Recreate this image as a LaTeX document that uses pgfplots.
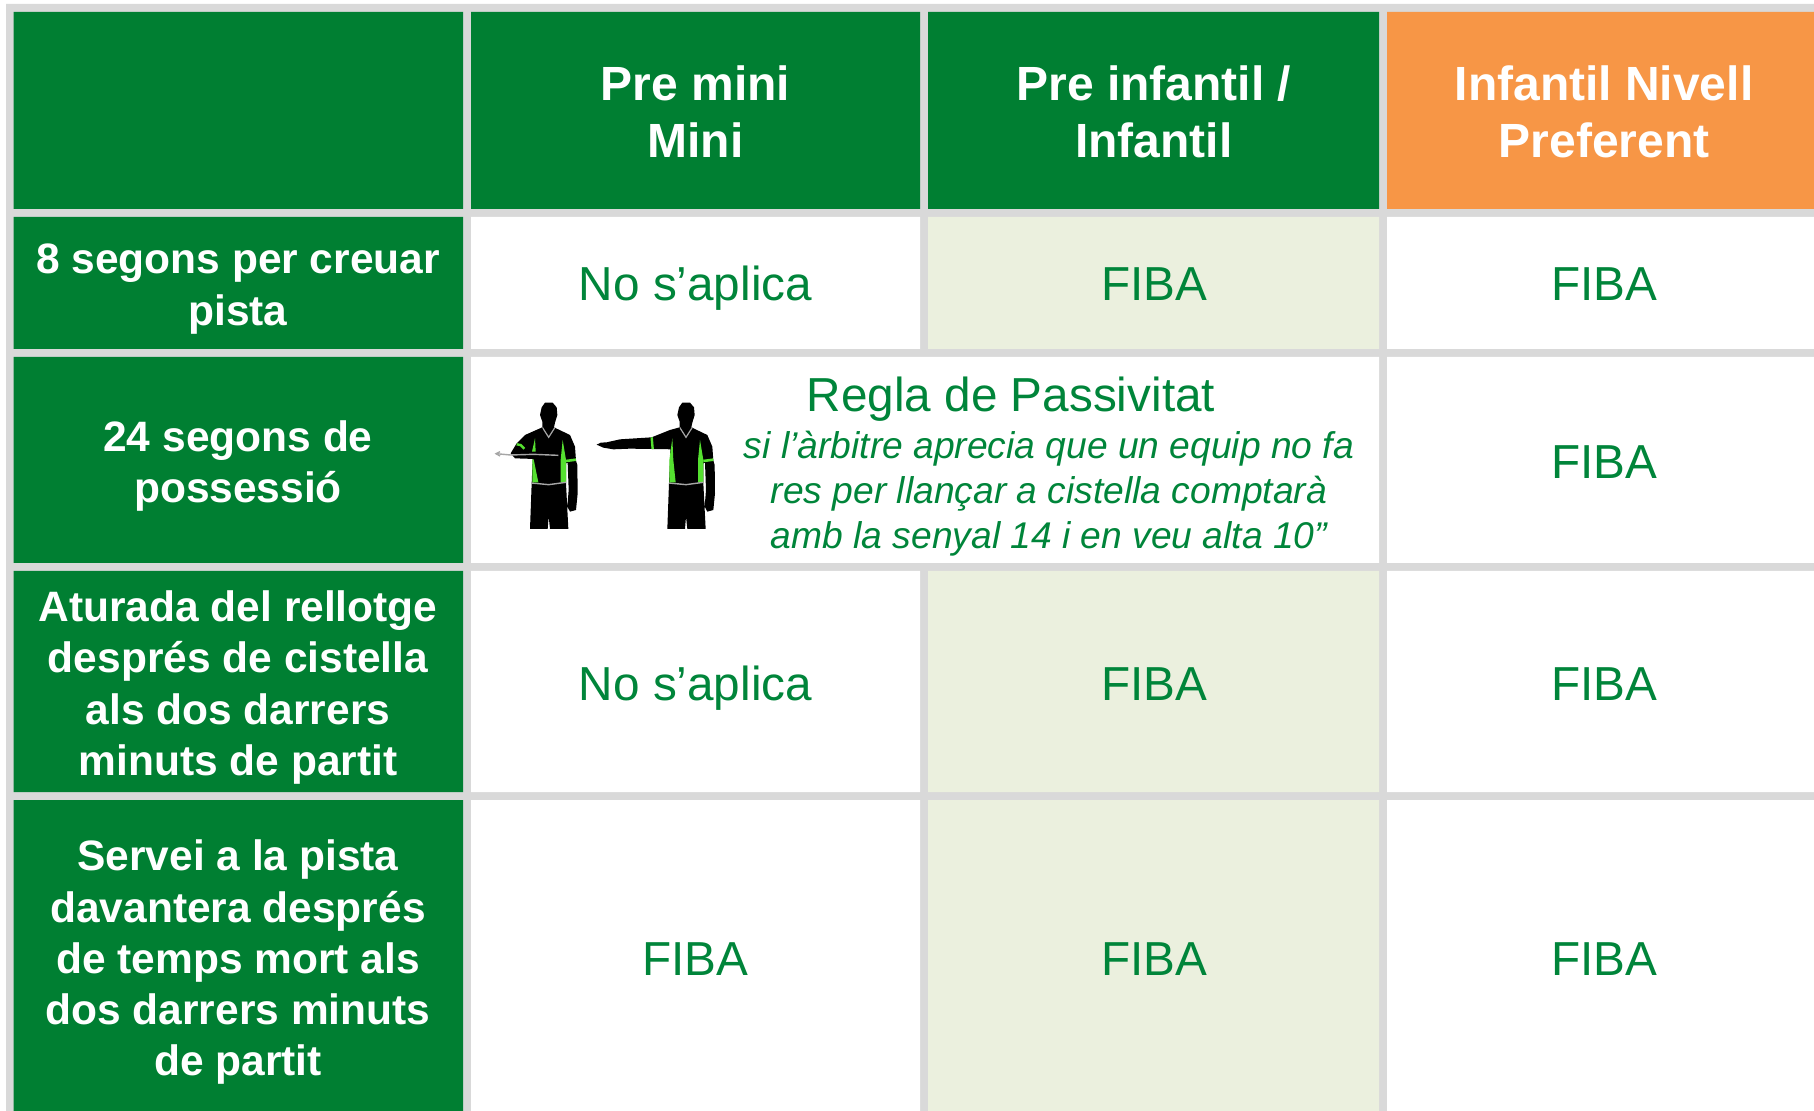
\documentclass[border=0pt]{standalone}
\usepackage{pgfplots}
\pgfplotsset{compat=1.18}
\usepackage{fontspec}
\setmainfont{Liberation Sans}
\definecolor{dg}{HTML}{007F32}
\definecolor{tg}{HTML}{00853A}
\definecolor{org}{HTML}{F79646}
\definecolor{pale}{HTML}{EBF0DE}
\definecolor{gr}{HTML}{D9D9D9}
\definecolor{lime}{HTML}{55E030}
\newcommand\cell[5]{\addplot[fill=#1,draw=none,forget plot] coordinates {(#2,#3)(#4,#3)(#4,#5)(#2,#5)(#2,#3)};}
% zoom-crop points: x/3 + offset, y/3 + 350
\newcommand\poly[3]{\addplot[fill=#1,draw=none,forget plot] table[x expr=\thisrowno{0}/3+#2,y expr=\thisrowno{1}/3+350,row sep=\\]{#3};}
\newcommand\lin[4]{\addplot[draw=#1,line width=#2,forget plot] table[x expr=\thisrowno{0}/3+#3,y expr=\thisrowno{1}/3+350,row sep=\\]{#4};}
\newcommand\HT[3]{\node[anchor=base,text=white,font=\fontsize{24pt}{28pt}\selectfont\bfseries,inner sep=0pt] at (axis cs:#1,#2) {#3};}
\newcommand\RT[3]{\node[anchor=base,text=white,font=\fontsize{21.25pt}{26pt}\selectfont\bfseries,inner sep=0pt] at (axis cs:#1,#2) {#3};}
\newcommand\GT[3]{\node[anchor=base,text=tg,font=\fontsize{23.85pt}{28pt}\selectfont,inner sep=0pt] at (axis cs:#1,#2) {#3};}
\newcommand\IT[3]{\node[anchor=base,text=tg,font=\fontsize{18.6pt}{23pt}\selectfont\itshape,inner sep=0pt] at (axis cs:#1,#2) {#3};}
\newcommand\common[1]{%
 \poly{black}{#1}{215 172\\225 158\\248 158\\260 172\\262 195\\255 218\\252 232\\300 255\\315 290\\318 332\\322 345\\323 430\\318 480\\300 485\\292 470\\296 420\\293 338\\288 340\\288 400\\295 537\\240 537\\236 500\\233 537\\180 537\\185 400\\188 330\\190 262\\217 232\\217 215\\210 195\\}
 \lin{lime}{1.3pt}{#1}{288 333\\318 329\\}
 \poly{lime}{#1}{278 270\\272 330\\272 397\\288 397\\288 330\\}
 \lin{gray!70}{0.6pt}{#1}{217 232\\236 262\\255 232\\}
 \lin{gray!70}{0.7pt}{#1}{185 399\\236 404\\288 397\\}
}
\begin{document}
\begin{tikzpicture}
\begin{axis}[hide axis,scale only axis,width=907pt,height=555.5pt,xmin=0,xmax=1814,ymin=0,ymax=1111,y dir=reverse,clip=true]
\cell{white}{0}{0}{1814}{1111}
\cell{gr}{6}{4}{1814}{1111}
% header
\cell{dg}{13.5}{12}{463}{209}
\cell{dg}{471}{12}{920}{209}
\cell{dg}{928}{12}{1379}{209}
\cell{org}{1387}{12}{1814}{209}
% row 1
\cell{dg}{13.5}{217}{463}{349}
\cell{white}{471}{217}{920}{349}
\cell{pale}{928}{217}{1379}{349}
\cell{white}{1387}{217}{1814}{349}
% row 2
\cell{dg}{13.5}{357}{463}{563}
\cell{white}{471}{357}{1379}{563}
\cell{white}{1387}{357}{1814}{563}
% row 3
\cell{dg}{13.5}{571}{463}{792}
\cell{white}{471}{571}{920}{792}
\cell{pale}{928}{571}{1379}{792}
\cell{white}{1387}{571}{1814}{792}
% row 4
\cell{dg}{13.5}{800}{463}{1111}
\cell{white}{471}{800}{920}{1111}
\cell{pale}{928}{800}{1379}{1111}
\cell{white}{1387}{800}{1814}{1111}
% referee figures
\common{470}
\common{607.33}
\poly{black}{470}{122 310\\140 280\\165 255\\217 232\\220 270\\190 305\\235 303\\265 310\\265 320\\225 328\\135 325\\}
\lin{lime}{1.2pt}{470}{140 283\\152 285\\163 296\\}
\poly{lime}{470}{195 265\\186 305\\197 305\\}
\poly{lime}{470}{187 328\\187 397\\205 397\\191 328\\}
\lin{gray!70}{0.7pt}{470}{78 311\\122 315\\190 313\\265 316\\}
\lin{gray!70}{0.7pt}{470}{90 305\\78 311\\90 318\\}
\poly{black}{470}{380 284\\392 278\\410 277\\450 268\\545 262\\600 240\\629 232\\632 300\\610 298\\545 297\\480 296\\430 298\\400 293\\}
\lin{lime}{1.2pt}{470}{545 262\\548 297\\}
\poly{lime}{607.33}{195 265\\186 330\\186 397\\205 397\\198 330\\}
% text
\HT{695.5}{101}{Pre mini}
\HT{695.5}{158}{Mini}
\HT{1153.7}{101}{Pre infantil /}
\HT{1153.7}{158}{Infantil}
\HT{1604}{101}{Infantil Nivell}
\HT{1604}{158}{Preferent}
\RT{238}{274}{8 segons per creuar}
\RT{238}{325.5}{pista}
\RT{238}{451.5}{24 segons de}
\RT{238}{502.5}{possessió}
\RT{238}{622}{Aturada del rellotge}
\RT{238}{673}{després de cistella}
\RT{238}{724.5}{als dos darrers}
\RT{238}{775.5}{minuts de partit}
\RT{238}{870.5}{Servei a la pista}
\RT{238}{922}{davantera després}
\RT{238}{973.5}{de temps mort als}
\RT{238}{1024.5}{dos darrers minuts}
\RT{238}{1075.5}{de partit}
\GT{695.5}{300.7}{No s’aplica}
\GT{1154}{300.7}{FIBA}
\GT{1604}{300.7}{FIBA}
\GT{1011}{412}{Regla de Passivitat}
\IT{1049}{459}{si l’àrbitre aprecia que un equip no fa}
\IT{1049}{504}{res per llançar a cistella comptarà}
\IT{1049}{549}{amb la senyal 14 i en veu alta 10”}
\GT{1604}{478.8}{FIBA}
\GT{695.5}{700}{No s’aplica}
\GT{1154}{700}{FIBA}
\GT{1604}{700}{FIBA}
\GT{695.5}{975}{FIBA}
\GT{1154}{975}{FIBA}
\GT{1604}{975}{FIBA}
\end{axis}
\end{tikzpicture}
\end{document}
